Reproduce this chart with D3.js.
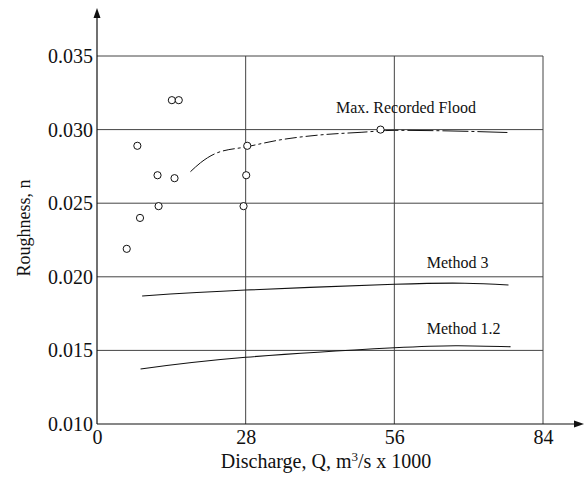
<!DOCTYPE html>
<html>
<head>
<meta charset="utf-8">
<script src="https://cdn.jsdelivr.net/npm/d3@7"></script>
<style>
  body { margin: 0; background: #fff; }
  svg text { font-family: "Liberation Serif", "Times New Roman", serif; fill: #111; }
</style>
</head>
<body>
<div id="chart"></div>
<script>
// observed points (discharge x1000 m3/s, roughness n)
const obsQ = [14.1, 15.4, 7.6, 11.4, 14.6, 11.6, 8.1, 5.6, 28.3, 28.1, 27.6, 53.4];
const obsN = [0.0320, 0.0320, 0.0289, 0.0269, 0.0267, 0.0248, 0.0240, 0.0219, 0.0289, 0.0269, 0.0248, 0.0300];

// max recorded flood curve (dash-dot)
const floodQ = [17.6, 19.5, 22.4, 28.3, 34.3, 41.8, 49.9, 56, 65, 77.5];
const floodN = [0.02714, 0.02775, 0.02839, 0.02884, 0.02929, 0.02963, 0.02982, 0.02995, 0.02992, 0.02980];

// method curves
const m3Q = [8.5, 28, 56, 69.3, 77.5];
const m3N = [0.01870, 0.01910, 0.01949, 0.01956, 0.01944];
const m12Q = [8.2, 28, 56, 68.1, 77.9];
const m12N = [0.01374, 0.01453, 0.01518, 0.01532, 0.01525];

const xTicks = [0, 28, 56, 84];
const yTicks = [0.010, 0.015, 0.020, 0.025, 0.030, 0.035];

const labels = [
  { text: "Max. Recorded Flood", q: 45.0, n: 0.0311 },
  { text: "Method 3", q: 62.1, n: 0.0206 },
  { text: "Method 1.2", q: 62.1, n: 0.01611 }
];

const width = 588, height = 479;
const margin = { top: 56, right: 45, bottom: 55, left: 97 };

const svg = d3.select("#chart").append("svg")
  .attr("width", width)
  .attr("height", height);

const x = d3.scaleLinear().domain([0, 84]).range([margin.left, width - margin.right]);
const y = d3.scaleLinear().domain([0.010, 0.035]).range([height - margin.bottom, margin.top]);

const grid = "#444";

// grid
svg.append("g").selectAll("line")
  .data(yTicks.slice(1))
  .join("line")
  .attr("x1", x(0)).attr("x2", x(84))
  .attr("y1", d => y(d)).attr("y2", d => y(d))
  .attr("stroke", grid).attr("stroke-width", 1);

svg.append("g").selectAll("line")
  .data(xTicks.slice(1))
  .join("line")
  .attr("x1", d => x(d)).attr("x2", d => x(d))
  .attr("y1", y(0.010)).attr("y2", y(0.035))
  .attr("stroke", grid).attr("stroke-width", 1);

// axes labels
const xAxis = svg.append("g")
  .attr("transform", `translate(0,${y(0.010)})`)
  .call(d3.axisBottom(x).tickValues(xTicks).tickSize(0).tickPadding(6).tickFormat(d3.format("d")));
xAxis.select(".domain").remove();
xAxis.selectAll("text").style("font-size", "20px").attr("fill", "#111");

const yAxis = svg.append("g")
  .attr("transform", `translate(${x(0)},0)`)
  .call(d3.axisLeft(y).tickValues(yTicks).tickSize(0).tickPadding(4).tickFormat(d3.format(".3f")));
yAxis.select(".domain").remove();
yAxis.selectAll("text").style("font-size", "20px").attr("fill", "#111");

// axis lines with arrows
svg.append("line")
  .attr("x1", x(0)).attr("x2", x(0))
  .attr("y1", y(0.010)).attr("y2", 16)
  .attr("stroke", "#111").attr("stroke-width", 1.2);
svg.append("path")
  .attr("d", `M${x(0)},8 L${x(0) - 3.5},18 L${x(0) + 3.5},18 Z`)
  .attr("fill", "#111");

svg.append("line")
  .attr("x1", x(0)).attr("x2", 576)
  .attr("y1", y(0.010)).attr("y2", y(0.010))
  .attr("stroke", "#111").attr("stroke-width", 1.2);
svg.append("path")
  .attr("d", `M584,${y(0.010)} L574,${y(0.010) - 3.5} L574,${y(0.010) + 3.5} Z`)
  .attr("fill", "#111");

// curves
const line = d3.line()
  .x(d => x(d[0]))
  .y(d => y(d[1]))
  .curve(d3.curveNatural);

svg.append("path")
  .datum(d3.zip(floodQ, floodN))
  .attr("d", line.curve(d3.curveMonotoneX))
  .attr("fill", "none")
  .attr("stroke", "#111")
  .attr("stroke-width", 1)
  .attr("stroke-dasharray", "30,3,3,3,12,3,3,3,12,3,3,3,12,3,3,3,12,3,3,3,12,3,3,3,12,3,3,3,20,3,3,3,22,3,3,3,26,3,3,3,26,3,3,3");

line.curve(d3.curveNatural);

svg.append("path")
  .datum(d3.zip(m3Q, m3N))
  .attr("d", line)
  .attr("fill", "none")
  .attr("stroke", "#111")
  .attr("stroke-width", 1.1);

svg.append("path")
  .datum(d3.zip(m12Q, m12N))
  .attr("d", line)
  .attr("fill", "none")
  .attr("stroke", "#111")
  .attr("stroke-width", 1.1);

// points
svg.append("g").selectAll("circle")
  .data(d3.zip(obsQ, obsN))
  .join("circle")
  .attr("cx", d => x(d[0]))
  .attr("cy", d => y(d[1]))
  .attr("r", 3.6)
  .attr("fill", "#fff")
  .attr("stroke", "#111")
  .attr("stroke-width", 1);

// annotations
svg.append("g").selectAll("text")
  .data(labels)
  .join("text")
  .attr("x", d => x(d.q))
  .attr("y", d => y(d.n))
  .style("font-size", "16px")
  .text(d => d.text);

// axis titles
const xt = svg.append("text")
  .attr("x", 326)
  .attr("y", 468)
  .attr("text-anchor", "middle")
  .style("font-size", "20px");
xt.append("tspan").text("Discharge, Q, m");
xt.append("tspan").attr("dy", -7).style("font-size", "13px").text("3");
xt.append("tspan").attr("dy", 7).text("/s x 1000");

svg.append("text")
  .attr("transform", "translate(30,228) rotate(-90)")
  .attr("text-anchor", "middle")
  .style("font-size", "18px")
  .text("Roughness, n");
</script>
</body>
</html>
